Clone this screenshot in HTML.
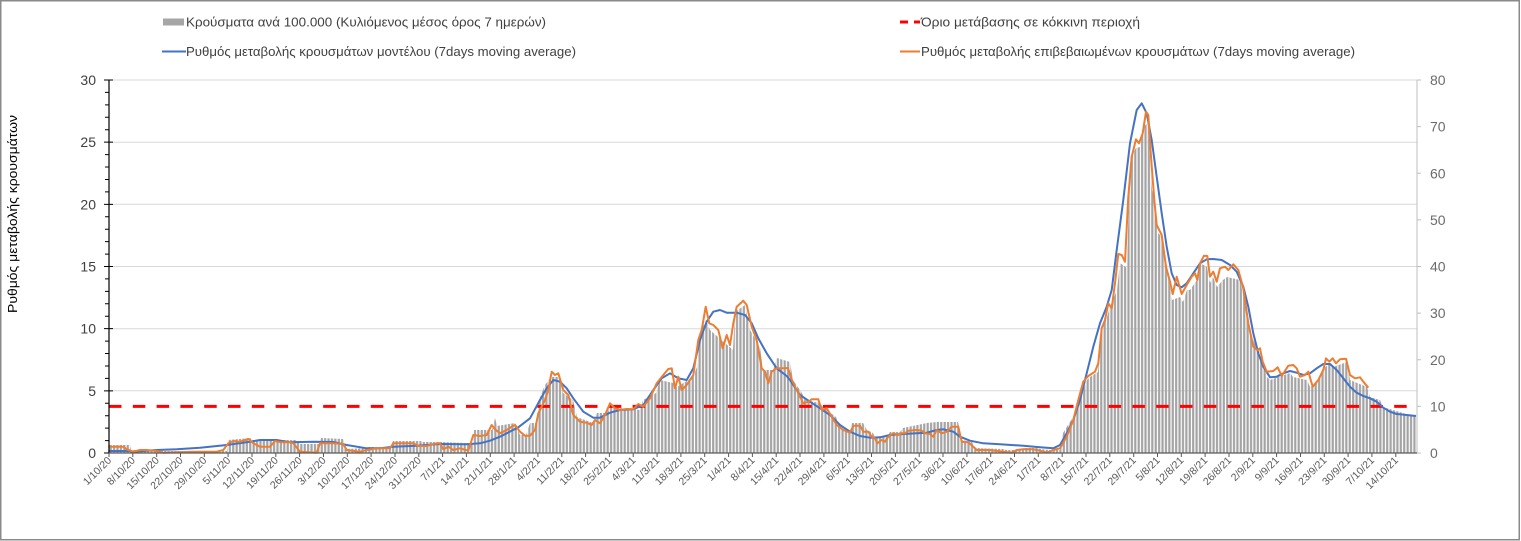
<!DOCTYPE html>
<html><head><meta charset="utf-8"><style>
html,body{margin:0;padding:0;background:#fff;}
svg{display:block;}
text{font-family:"Liberation Sans",Arial,sans-serif;}
</style></head><body>
<svg width="1521" height="541" viewBox="0 0 1521 541" xmlns="http://www.w3.org/2000/svg">
<defs>
<pattern id="bars" patternUnits="userSpaceOnUse" x="109" y="0" width="3.404" height="541">
<rect x="0.6" y="0" width="2.2" height="541" fill="#a3a3a3"/>
</pattern>
</defs>
<rect x="0" y="0" width="1521" height="541" fill="#fff"/>
<rect x="0.75" y="0.75" width="1518.5" height="539" fill="none" stroke="#8a8a8a" stroke-width="1.5"/>

<!-- legend -->
<rect x="163" y="18.5" width="21" height="7" fill="#a6a6a6"/>
<text x="186" y="26.5" font-size="13" fill="#404040" textLength="360" lengthAdjust="spacingAndGlyphs">Κρούσματα ανά 100.000 (Κυλιόμενος μέσος όρος 7 ημερών)</text>
<line x1="162" y1="51.5" x2="186" y2="51.5" stroke="#4472c4" stroke-width="2"/>
<text x="186" y="56" font-size="13" fill="#404040" textLength="390" lengthAdjust="spacingAndGlyphs">Ρυθμός μεταβολής κρουσμάτων μοντέλου (7days moving average)</text>
<line x1="900" y1="22" x2="908" y2="22" stroke="#ff0000" stroke-width="3"/>
<line x1="914" y1="22" x2="920" y2="22" stroke="#ff0000" stroke-width="3"/>
<text x="921" y="26.5" font-size="13" fill="#404040" textLength="219" lengthAdjust="spacingAndGlyphs">Όριο μετάβασης σε κόκκινη περιοχή</text>
<line x1="900" y1="51.5" x2="920" y2="51.5" stroke="#ed7d31" stroke-width="2"/>
<text x="921" y="56" font-size="13" fill="#404040" textLength="434" lengthAdjust="spacingAndGlyphs">Ρυθμός μεταβολής επιβεβαιωμένων κρουσμάτων (7days moving average)</text>

<!-- y axis title -->
<text transform="translate(17,214) rotate(-90)" text-anchor="middle" font-size="13" fill="#000" textLength="198" lengthAdjust="spacingAndGlyphs">Ρυθμός μεταβολής κρουσμάτων</text>

<!-- gridlines -->
<g stroke="#d9d9d9" stroke-width="1">
<line x1="109" y1="80" x2="1417" y2="80"/>
<line x1="109" y1="142.2" x2="1417" y2="142.2"/>
<line x1="109" y1="204.3" x2="1417" y2="204.3"/>
<line x1="109" y1="266.5" x2="1417" y2="266.5"/>
<line x1="109" y1="328.7" x2="1417" y2="328.7"/>
<line x1="109" y1="390.8" x2="1417" y2="390.8"/>
</g>

<!-- bars -->
<polygon fill="url(#bars)" points="109,453 109,445 130,445 131,450 156,450 157,451 227,451 228,440 250,438 253,440 296,440 300,444 320,444 321,438 343,439 346,449 366,448 367,447 390,447 393,441 420,441 423,442 440,442 466,443 473,443 474,430 492,430 495,418 497,426 515,423 520,435 526,435 530,423 537,423 540,397 545,385 551,377 560,377 563,393 573,400 577,417 593,423 597,413 607,413 610,407 640,410 643,400 656,393 660,380 673,383 677,387 693,377 697,367 700,333 706,320 710,330 733,350 735,312 745,305 750,330 760,347 763,370 773,370 777,358 790,362 793,380 800,390 803,395 805,400 820,403 823,407 836,417 840,428 850,432 852,423 863,423 867,430 873,433 875,437 888,435 890,432 900,432 903,428 927,423 937,422 958,422 962,440 972,442 975,448 1003,449 1006,450 1023,450 1024,448 1037,448 1040,449 1050,450 1060,450 1063,433 1073,417 1077,407 1087,380 1090,377 1098,372 1101,330 1107,317 1110,307 1117,290 1120,263 1127,268 1130,157 1133,153 1136,148 1140,147 1143,127 1148,123 1152,190 1155,200 1158,233 1162,237 1167,267 1172,300 1180,297 1183,302 1187,290 1190,290 1197,280 1200,263 1207,267 1210,283 1213,277 1217,287 1223,280 1227,277 1240,280 1243,293 1247,310 1250,330 1257,350 1260,357 1267,377 1270,380 1290,373 1293,377 1307,380 1310,387 1317,383 1322,370 1330,363 1333,367 1347,362 1350,380 1367,387 1370,397 1380,400 1383,407 1416,417 1416,453"/>

<!-- red threshold -->
<line x1="109" y1="406.4" x2="1412" y2="406.4" stroke="#ff0000" stroke-width="3" stroke-dasharray="12.5 11.3"/>

<!-- blue model line -->
<polyline fill="none" stroke="#4472c4" stroke-width="2" stroke-linejoin="round" points="108.3,451 130,451 133,451.7 156.7,450 176.7,449.3 200,447.7 226.7,445 250,441.7 260,440 276.7,440 290,442.3 313.3,441.7 333.3,442 346.7,445 366.7,448.3 380,448.3 393.3,446.7 416.7,445.7 440,444 466.7,444.3 480,443.3 490,440.7 500,436.7 506.7,433.3 518.3,427.3 530,418.3 540,400 546.7,388.3 553.3,380 560,381.7 566.7,388.3 573.3,398.3 583.3,411.7 593.3,417.7 600,417.7 610,412.7 620,410 633.3,409.3 643.3,405 653.3,390 661.7,378.3 670,373.3 678.3,378.3 686.7,380 693.3,368.3 700,340 706.7,321.7 713.3,311.7 720,310 726.7,312.7 736.7,312.7 745,315 751.7,323.3 758.3,338.3 766.7,353.3 776.7,368.3 786.7,376 790,380 800,395 810,401.7 820,408.3 830,415 840,425 850,431.7 860,436 870,437.7 880,437.3 890,435 903.3,434 916.7,433.3 926.7,432.7 936.7,430 943.3,429.3 953.3,431.7 960,436.7 970,440.7 983.3,443.3 1000,444.3 1023.3,445.7 1040,447.3 1053.3,448.3 1060,445 1066.7,433.3 1073.3,420 1080,400 1086.7,373.3 1093.3,346.7 1100,323.3 1106.7,306.7 1111.7,290 1116.7,250 1123.3,200 1130,143.3 1136.7,110 1141.7,103.3 1146.7,113.3 1151.7,140 1156.7,176.7 1161.7,213.3 1166.7,246.7 1171.7,273.3 1176.7,285 1181.7,287.3 1186.7,283.3 1193.3,273.3 1200,263.3 1206.7,259.3 1213.3,259 1221.7,260 1230,265 1236.7,271.7 1243.3,286.7 1248.3,306.7 1253.3,333.3 1258.3,353.3 1263.3,366.7 1270,377.3 1276.7,376.7 1283.3,373.3 1290,371 1296.7,372.7 1303.3,375 1310,373.3 1316.7,368.3 1323.3,364 1330,364 1336.7,370 1343.3,378.3 1350,386.7 1356.7,392.7 1363.3,396 1370,398.3 1376.7,401.7 1383.3,407.7 1390,411.7 1396.7,414 1406.7,415 1416,416"/>

<!-- orange confirmed line -->
<polyline fill="none" stroke="#ed7d31" stroke-width="2" stroke-linejoin="round" points="108.3,446.7 123.3,446.7 126.7,449.3 133.3,451.7 140,450 146.7,450 156.7,451 163.3,452.7 193.3,451.7 216.7,451.7 223.3,450 228.3,443.3 233.3,441 240,441.7 248.3,439 253.3,443.3 260,446.7 270,446.7 275,441 281.7,442.3 290,442.3 293.3,443.3 300,451.7 316.7,452.7 320,443.3 333.3,443.3 343.3,444 346.7,450 360,451.7 366.7,450 376.7,448.3 390,448.3 393.3,443.3 413.3,443.3 418.3,446 426.7,446 433.3,444 440,443.3 443.3,449.3 448.3,446.7 453.3,450 460,448.3 468.3,450.7 473.3,435 480,436 486.7,435 491.7,425 495,429.3 500,433.3 506.7,430 511.7,426.7 515,425 520,431.7 525,435.7 530,435.7 535,430 538.3,413.3 545,400 548.3,390 551.7,371.7 555,375 558.3,373.3 563.3,390 568.3,395 573.3,415 580,421.7 586.7,422.7 591.7,425 595,420 600,423.3 605,415 610,403.3 615,408.3 620,410 626.7,409 633.3,409.3 638.3,404 643.3,406.7 650,398.3 656.7,383.3 663.3,375 668.3,369 671.7,368.3 675,388.3 678.3,376.7 681.7,390 686.7,385 693.3,375 698.3,340 701.7,330 705.7,306.7 709.3,323.3 713.3,325 718.3,330 722.7,348.3 726.7,335 730,345 733.3,323.3 736.7,306.7 743.3,300.7 746.7,305 751.7,326.7 756.7,340 761.7,368.3 765,371.7 768.3,383.3 771.7,371.7 776.7,368.3 783.3,368.3 788,368 791,378 796.7,390 803.3,403.3 808.3,401.7 811.7,399.3 818.3,399.3 821.7,410 826.7,408.3 831.7,416.7 836.7,425 843.3,430 850,432.7 853.3,425.7 860,425.7 863.3,431.7 868.3,431.7 871.7,436.7 875,438.3 877.3,443.3 881.7,440 885,441.7 888.3,436.7 893.3,433.3 898.3,435 901.7,433.3 905,433.3 908.3,430.7 916.7,430 921.7,430.7 925,433.3 930,434 933.3,436.7 936.7,430 941.7,433.3 946.7,431.7 951.7,426.7 958.3,426.7 961.7,441.7 968.3,442.3 973.3,446.7 976.7,450 990,450 1003.3,451.7 1011.7,452.7 1016.7,450 1023.3,449.3 1033.3,449.3 1040,450.7 1046.7,452.7 1053.3,450 1060,448.3 1066.7,436.7 1073.3,420 1078.3,400 1083.3,381.7 1088.3,376 1095,371.7 1098.3,363.3 1101.7,328.3 1105,320 1108.3,303.3 1111.7,308.3 1115,283.3 1118.3,254 1121.7,255 1125,261.7 1128.3,196.7 1131.7,156.7 1136,139.3 1139,143.3 1142.7,133.3 1146,111.7 1148.3,115 1151,156.7 1154.3,200 1156.7,225 1161.7,235 1166,266.7 1170,281.7 1172.7,294 1176.7,276.7 1181.7,294 1186.7,285 1191.7,276.7 1195,273.3 1197.3,280 1200,263.3 1204,255.7 1207.3,256 1210,276.7 1213.3,271.7 1216.7,281.7 1220,268.3 1225,266.7 1228.3,270 1233.3,264.3 1238.3,270 1243.3,288.3 1248.3,323.3 1253.3,346.7 1257.3,350 1260,348.3 1262.7,361.7 1266.7,371.7 1273.3,371 1277.7,367.3 1281.7,376 1288.3,365.7 1293.3,365 1296.7,368.3 1300,376.7 1305,375 1308.3,371.7 1312.7,386.7 1318.3,380 1323.3,370 1326,358.3 1329.3,361.7 1332.7,358.3 1336,363.3 1340,359.3 1346,358.7 1350,375 1355,378.3 1360,377.3 1363.3,381.7 1368.3,387.7"/>

<!-- left axis -->
<line x1="109" y1="80" x2="109" y2="453" stroke="#000" stroke-width="1.2"/>
<path stroke="#000" stroke-width="1" fill="none" d="M104,453H113M105,440.57H109M105,428.13H109M105,415.7H109M105,403.27H109M104,390.83H113M105,378.4H109M105,365.97H109M105,353.53H109M105,341.1H109M104,328.67H113M105,316.23H109M105,303.8H109M105,291.37H109M105,278.93H109M104,266.5H113M105,254.07H109M105,241.63H109M105,229.2H109M105,216.77H109M104,204.33H113M105,191.9H109M105,179.47H109M105,167.03H109M105,154.6H109M104,142.17H113M105,129.73H109M105,117.3H109M105,104.87H109M105,92.43H109M104,80H113"/>
<g font-size="14" fill="#404040" text-anchor="end">
<text x="96" y="458">0</text>
<text x="96" y="395.8">5</text>
<text x="96" y="333.7">10</text>
<text x="96" y="271.5">15</text>
<text x="96" y="209.3">20</text>
<text x="96" y="147.2">25</text>
<text x="96" y="85">30</text>
</g>

<!-- right axis -->
<line x1="1417" y1="80" x2="1417" y2="453" stroke="#bfbfbf" stroke-width="1"/>
<path stroke="#bfbfbf" stroke-width="1" d="M1417,453H1421M1417,406.4H1421M1417,359.75H1421M1417,313.1H1421M1417,266.5H1421M1417,219.9H1421M1417,173.25H1421M1417,126.6H1421M1417,80H1421"/>
<g font-size="14" fill="#6b6b6b">
<text x="1430" y="458">0</text>
<text x="1430" y="411.4">10</text>
<text x="1430" y="364.75">20</text>
<text x="1430" y="318.1">30</text>
<text x="1430" y="271.5">40</text>
<text x="1430" y="224.9">50</text>
<text x="1430" y="178.25">60</text>
<text x="1430" y="131.6">70</text>
<text x="1430" y="85">80</text>
</g>

<!-- x axis -->
<line x1="109" y1="453" x2="1417" y2="453" stroke="#595959" stroke-width="1.2"/>
<path stroke="#595959" stroke-width="1" d="M109,453v4M132.8,453v4M156.7,453v4M180.5,453v4M204.3,453v4M228.1,453v4M252,453v4M275.8,453v4M299.6,453v4M323.5,453v4M347.3,453v4M371.1,453v4M395,453v4M418.8,453v4M442.6,453v4M466.4,453v4M490.3,453v4M514.1,453v4M537.9,453v4M561.8,453v4M585.6,453v4M609.4,453v4M633.2,453v4M657.1,453v4M680.9,453v4M704.7,453v4M728.6,453v4M752.4,453v4M776.2,453v4M800,453v4M823.9,453v4M847.7,453v4M871.5,453v4M895.4,453v4M919.2,453v4M943,453v4M966.9,453v4M990.7,453v4M1014.5,453v4M1038.3,453v4M1062.2,453v4M1086,453v4M1109.8,453v4M1133.7,453v4M1157.5,453v4M1181.3,453v4M1205.1,453v4M1229,453v4M1252.8,453v4M1276.6,453v4M1300.5,453v4M1324.3,453v4M1348.1,453v4M1371.9,453v4M1395.8,453v4"/>
<g font-size="10.5" fill="#595959" text-anchor="end">
<text transform="translate(112,461) rotate(-45)">1/10/20</text>
<text transform="translate(135.8,461) rotate(-45)">8/10/20</text>
<text transform="translate(159.7,461) rotate(-45)">15/10/20</text>
<text transform="translate(183.5,461) rotate(-45)">22/10/20</text>
<text transform="translate(207.3,461) rotate(-45)">29/10/20</text>
<text transform="translate(231.1,461) rotate(-45)">5/11/20</text>
<text transform="translate(255,461) rotate(-45)">12/11/20</text>
<text transform="translate(278.8,461) rotate(-45)">19/11/20</text>
<text transform="translate(302.6,461) rotate(-45)">26/11/20</text>
<text transform="translate(326.5,461) rotate(-45)">3/12/20</text>
<text transform="translate(350.3,461) rotate(-45)">10/12/20</text>
<text transform="translate(374.1,461) rotate(-45)">17/12/20</text>
<text transform="translate(398,461) rotate(-45)">24/12/20</text>
<text transform="translate(421.8,461) rotate(-45)">31/12/20</text>
<text transform="translate(445.6,461) rotate(-45)">7/1/21</text>
<text transform="translate(469.4,461) rotate(-45)">14/1/21</text>
<text transform="translate(493.3,461) rotate(-45)">21/1/21</text>
<text transform="translate(517.1,461) rotate(-45)">28/1/21</text>
<text transform="translate(540.9,461) rotate(-45)">4/2/21</text>
<text transform="translate(564.8,461) rotate(-45)">11/2/21</text>
<text transform="translate(588.6,461) rotate(-45)">18/2/21</text>
<text transform="translate(612.4,461) rotate(-45)">25/2/21</text>
<text transform="translate(636.2,461) rotate(-45)">4/3/21</text>
<text transform="translate(660.1,461) rotate(-45)">11/3/21</text>
<text transform="translate(683.9,461) rotate(-45)">18/3/21</text>
<text transform="translate(707.7,461) rotate(-45)">25/3/21</text>
<text transform="translate(731.6,461) rotate(-45)">1/4/21</text>
<text transform="translate(755.4,461) rotate(-45)">8/4/21</text>
<text transform="translate(779.2,461) rotate(-45)">15/4/21</text>
<text transform="translate(803,461) rotate(-45)">22/4/21</text>
<text transform="translate(826.9,461) rotate(-45)">29/4/21</text>
<text transform="translate(850.7,461) rotate(-45)">6/5/21</text>
<text transform="translate(874.5,461) rotate(-45)">13/5/21</text>
<text transform="translate(898.4,461) rotate(-45)">20/5/21</text>
<text transform="translate(922.2,461) rotate(-45)">27/5/21</text>
<text transform="translate(946,461) rotate(-45)">3/6/21</text>
<text transform="translate(969.9,461) rotate(-45)">10/6/21</text>
<text transform="translate(993.7,461) rotate(-45)">17/6/21</text>
<text transform="translate(1017.5,461) rotate(-45)">24/6/21</text>
<text transform="translate(1041.3,461) rotate(-45)">1/7/21</text>
<text transform="translate(1065.2,461) rotate(-45)">8/7/21</text>
<text transform="translate(1089,461) rotate(-45)">15/7/21</text>
<text transform="translate(1112.8,461) rotate(-45)">22/7/21</text>
<text transform="translate(1136.7,461) rotate(-45)">29/7/21</text>
<text transform="translate(1160.5,461) rotate(-45)">5/8/21</text>
<text transform="translate(1184.3,461) rotate(-45)">12/8/21</text>
<text transform="translate(1208.1,461) rotate(-45)">19/8/21</text>
<text transform="translate(1232,461) rotate(-45)">26/8/21</text>
<text transform="translate(1255.8,461) rotate(-45)">2/9/21</text>
<text transform="translate(1279.6,461) rotate(-45)">9/9/21</text>
<text transform="translate(1303.5,461) rotate(-45)">16/9/21</text>
<text transform="translate(1327.3,461) rotate(-45)">23/9/21</text>
<text transform="translate(1351.1,461) rotate(-45)">30/9/21</text>
<text transform="translate(1374.9,461) rotate(-45)">7/10/21</text>
<text transform="translate(1398.8,461) rotate(-45)">14/10/21</text>
</g>
</svg>
</body></html>
